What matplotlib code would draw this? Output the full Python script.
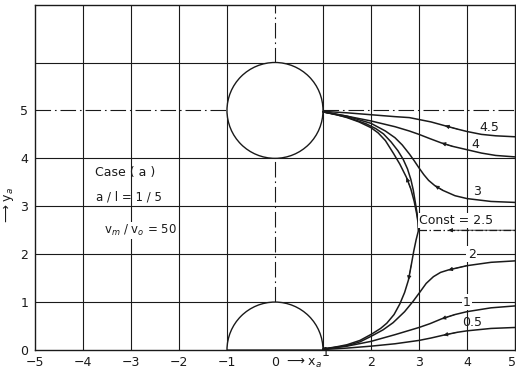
import matplotlib
matplotlib.use("Agg")
import matplotlib.pyplot as plt
from matplotlib.patches import Circle, Wedge
from matplotlib.transforms import ScaledTranslation

# ---- data -------------------------------------------------------------
x_ticks = [-5, -4, -3, -2, -1, 0, 1, 2, 3, 4, 5]
y_ticks = [0, 1, 2, 3, 4, 5]

# streamlines, listed from the cylinder outwards (x, y)
psi_45 = [(1.0, 4.98), (1.5, 4.95), (2.0, 4.91), (2.5, 4.87), (2.8, 4.85), (3.0, 4.81),
          (3.25, 4.76), (3.54, 4.68), (3.8, 4.61), (4.0, 4.56), (4.3, 4.50), (4.6, 4.47),
          (5.0, 4.45)]
psi_4 = [(1.0, 4.97), (1.5, 4.88), (2.0, 4.78), (2.5, 4.66), (2.8, 4.57), (3.0, 4.50),
         (3.23, 4.41), (3.47, 4.32), (3.7, 4.25), (4.0, 4.18), (4.3, 4.11), (4.6, 4.06),
         (5.0, 4.03)]
psi_3 = [(1.0, 4.97), (1.5, 4.88), (2.0, 4.73), (2.3, 4.57), (2.5, 4.43), (2.65, 4.28),
         (2.8, 4.09), (2.9, 3.95), (3.0, 3.80), (3.1, 3.66), (3.2, 3.54), (3.33, 3.43),
         (3.5, 3.33), (3.75, 3.22), (4.0, 3.16), (4.5, 3.10), (5.0, 3.08)]
psi_25_upper = [(1.0, 4.97), (1.25, 4.92), (1.5, 4.85), (1.75, 4.76), (2.0, 4.64),
                (2.15, 4.53), (2.3, 4.37), (2.47, 4.10), (2.6, 3.88), (2.74, 3.60),
                (2.83, 3.36), (2.9, 3.10), (2.95, 2.85), (2.98, 2.66), (2.99, 2.5)]
psi_25_upper_b = [(1.0, 4.97), (1.5, 4.86), (1.9, 4.72), (2.1, 4.62), (2.26, 4.51),
                  (2.42, 4.34), (2.56, 4.16), (2.67, 3.98), (2.76, 3.78), (2.83, 3.56),
                  (2.88, 3.34), (2.92, 3.10), (2.96, 2.85), (2.985, 2.66), (2.99, 2.5)]
psi_25_lower = [(1.0, 0.02), (1.3, 0.07), (1.5, 0.11), (1.77, 0.20), (2.01, 0.33),
                (2.2, 0.45), (2.33, 0.56), (2.48, 0.74), (2.6, 0.96), (2.7, 1.2),
                (2.78, 1.46), (2.84, 1.78), (2.89, 2.06), (2.94, 2.30), (2.99, 2.5)]
psi_25_tail = [(2.99, 2.5), (3.61, 2.5), (5.0, 2.5)]
psi_2 = [(1.0, 0.02), (1.3, 0.06), (1.5, 0.09), (1.77, 0.17), (2.01, 0.29), (2.25, 0.42),
         (2.46, 0.57), (2.7, 0.80), (2.88, 1.02), (3.02, 1.21), (3.15, 1.39), (3.3, 1.53),
         (3.45, 1.62), (3.61, 1.67), (4.0, 1.76), (4.5, 1.83), (5.0, 1.86)]
psi_1 = [(1.0, 0.02), (1.5, 0.08), (2.0, 0.18), (2.5, 0.32), (3.0, 0.47), (3.23, 0.55),
         (3.47, 0.65), (3.75, 0.74), (4.0, 0.80), (4.5, 0.88), (5.0, 0.92)]
psi_05 = [(1.0, 0.01), (1.5, 0.04), (2.0, 0.08), (2.5, 0.13), (3.0, 0.20), (3.25, 0.25),
          (3.51, 0.31), (3.8, 0.37), (4.0, 0.40), (4.5, 0.45), (5.0, 0.47)]

# (curve, index of the vertex carrying the arrow head)
arrows = [(psi_45, 7), (psi_4, 7), (psi_3, 11), (psi_25_upper, 9), (psi_25_lower, 10),
          (psi_25_tail, 1), (psi_2, 13), (psi_1, 6), (psi_05, 6)]

curve_labels = ["4.5", "4", "3", "Const = 2.5", "2", "1", "0.5"]
label_pos = [(4.46, 4.65), (4.17, 4.29), (4.2, 3.31), (3.78, 2.70), (4.1, 2.0),
             (4.0, 1.0), (4.1, 0.57)]
label_boxed = [False, False, False, True, True, True, False]

# ---- figure -----------------------------------------------------------
plt.rcParams["font.family"] = ["DejaVu Sans"]
fig = plt.figure(figsize=(5.16, 3.75), dpi=100)
ax = fig.add_axes([35 / 516, 25 / 375, 480 / 516, 345 / 375])
ax.set_xlim(-5, 5)
ax.set_ylim(0, 7.2)

ink = "#1a1a1a"
grid_kw = dict(color=ink, lw=0.8, zorder=1)
for gx in [-4, -3, -2, -1, 1, 2, 3, 4]:
    ax.axvline(gx, **grid_kw)
for gy in [1, 2, 3, 4, 6]:
    ax.axhline(gy, **grid_kw)

dashdot = (0, (14, 3.5, 1.5, 3.5))
dd_kw = dict(color=ink, lw=0.8, linestyle=dashdot, zorder=1)
ax.plot([-5, -1], [5, 5], **dd_kw)
ax.plot([1, 5], [5, 5], **dd_kw)
ax.plot([0, 0], [1, 4], **dd_kw)
ax.plot([0, 0], [6, 7.2], **dd_kw)

# cylinders
ax.add_patch(Circle((0, 5), 1, facecolor="white", edgecolor=ink, lw=1.0, zorder=3))
ax.add_patch(Wedge((0, 0), 1, 0, 180, facecolor="white", edgecolor=ink, lw=1.0, zorder=3))

line_kw = dict(color=ink, lw=1.1, zorder=4, solid_capstyle="round",
               solid_joinstyle="round")
for curve in [psi_45, psi_4, psi_3, psi_25_upper, psi_25_upper_b, psi_25_lower,
              psi_2, psi_1, psi_05]:
    xs, ys = zip(*curve)
    ax.plot(xs, ys, **line_kw)
xs, ys = zip(*psi_25_tail)
ax.plot(xs, ys, color=ink, lw=0.9, linestyle=(0, (6, 2, 1.2, 2)), zorder=4)

for curve, i in arrows:
    ax.annotate("", xy=curve[i], xytext=curve[i + 1],
                arrowprops=dict(arrowstyle="-|>", color=ink, lw=0.6,
                                mutation_scale=6, shrinkA=0, shrinkB=0),
                zorder=5)

for txt, (lx, ly), boxed in zip(curve_labels, label_pos, label_boxed):
    kw = dict(bbox=dict(facecolor="white", edgecolor="none", pad=1.0)) if boxed else {}
    ax.text(lx, ly, txt, ha="center", va="center", fontsize=9, color=ink, zorder=6, **kw)

# case annotation
ax.text(-3.12, 3.70, "Case ( a )", ha="center", va="center", fontsize=9, color=ink)
ax.text(-3.05, 3.19, "a / l = 1 / 5", ha="center", va="center", fontsize=8.5, color=ink)
ax.text(-2.80, 2.49, "v$_m$ / v$_o$ = 50", ha="center", va="center", fontsize=8.5,
        color=ink, bbox=dict(facecolor="white", edgecolor="none", pad=0.5))

# axes; the "1" tick label is drawn raised, next to the x_a label
ax.set_xticks(x_ticks)
ax.set_xticklabels(["" if v == 1 else str(v).replace("-", "\u2212") for v in x_ticks])
ax.set_yticks(y_ticks)
ax.set_yticklabels([str(v) for v in y_ticks])
ax.tick_params(length=0, labelsize=9, colors=ink)
ax.tick_params(axis="x", pad=4)
ax.tick_params(axis="y", pad=5)
for sp in ax.spines.values():
    sp.set_color(ink)
    sp.set_linewidth(1.0)

ax.text(1.06, -0.05, "1", ha="center", va="center", fontsize=9, color=ink,
        clip_on=False, zorder=6)
ax.text(0.99, -0.12, "\u27f6 x$_a$", ha="right", va="top", fontsize=9, color=ink,
        clip_on=False)
fig.text(9 / 516, 1 - 205 / 375, "\u27f6 y$_a$", rotation=90, ha="center", va="center",
         fontsize=9, color=ink)

# keep the last x tick label inside the frame
for lab in ax.get_xticklabels():
    if lab.get_text() == "5":
        lab.set_transform(lab.get_transform() +
                          ScaledTranslation(-0.03, 0.0, fig.dpi_scale_trans))

fig.savefig("out.png", dpi=100)
